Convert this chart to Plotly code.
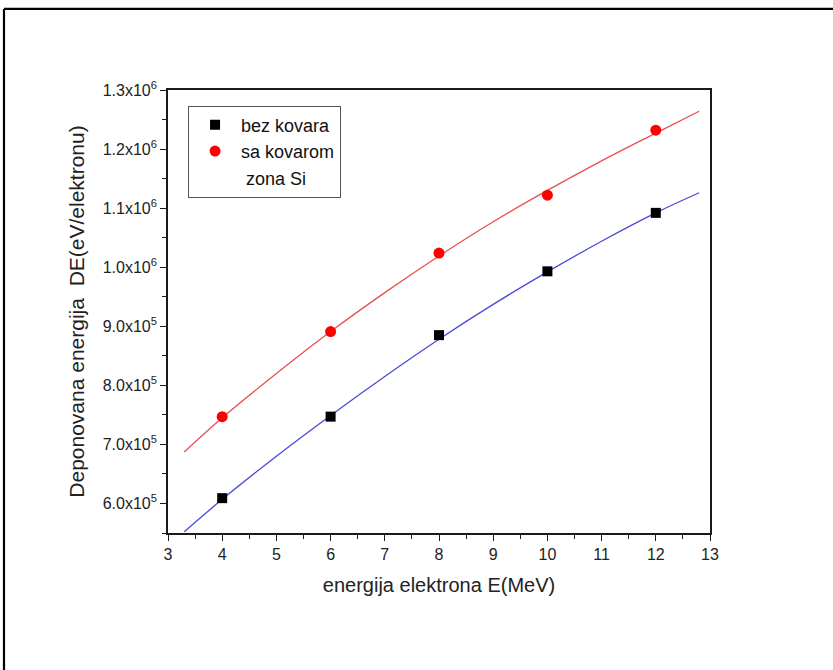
import plotly.graph_objects as go

# Data
energy = [4, 6, 8, 10, 12]
bez_kovara = [6.09e5, 7.47e5, 8.85e5, 9.93e5, 1.092e6]
sa_kovarom = [7.47e5, 8.91e5, 1.024e6, 1.122e6, 1.232e6]

# Fitted curves
fit_x = [3.3, 4, 5, 6, 7, 8, 9, 10, 11, 12, 12.8]
fit_bez = [5.52e5, 6.07e5, 6.80e5, 7.49e5, 8.15e5, 8.78e5, 9.37e5, 9.92e5, 1.044e6, 1.092e6, 1.126e6]
fit_sa = [6.87e5, 7.45e5, 8.20e5, 8.91e5, 9.57e5, 1.019e6, 1.077e6, 1.130e6, 1.180e6, 1.227e6, 1.264e6]

y_ticks = [6.0e5, 7.0e5, 8.0e5, 9.0e5, 1.0e6, 1.1e6, 1.2e6, 1.3e6]
y_tick_text = ["6.0x10<sup>5</sup>", "7.0x10<sup>5</sup>", "8.0x10<sup>5</sup>", "9.0x10<sup>5</sup>",
               "1.0x10<sup>6</sup>", "1.1x10<sup>6</sup>", "1.2x10<sup>6</sup>", "1.3x10<sup>6</sup>"]
x_ticks = [3, 4, 5, 6, 7, 8, 9, 10, 11, 12, 13]

FONT = "Liberation Sans, Arial, sans-serif"

fig = go.Figure()
fig.add_trace(go.Scatter(x=fit_x, y=fit_bez, mode="lines", line=dict(color="#4a4ad8", width=1.3, shape="spline"),
                         showlegend=False, hoverinfo="skip"))
fig.add_trace(go.Scatter(x=fit_x, y=fit_sa, mode="lines", line=dict(color="#e85050", width=1.3, shape="spline"),
                         showlegend=False, hoverinfo="skip"))
fig.add_trace(go.Scatter(x=energy, y=bez_kovara, mode="markers", name="bez kovara",
                         marker=dict(symbol="square", size=10, color="#000000")))
fig.add_trace(go.Scatter(x=energy, y=sa_kovarom, mode="markers", name="sa kovarom",
                         marker=dict(symbol="circle", size=11, color="#ff0000")))
fig.add_trace(go.Scatter(x=[None], y=[None], mode="markers", name=" zona Si",
                         marker=dict(symbol="circle", size=1, color="rgba(0,0,0,0)")))

axis_common = dict(showline=True, linecolor="#1a1a1a", linewidth=1.6, mirror=True, showgrid=False,
                   zeroline=False, ticks="outside", ticklen=6, tickwidth=1.3, tickcolor="#1a1a1a",
                   tickfont=dict(family=FONT, size=16, color="#222"))

fig.update_xaxes(range=[3, 13], tickvals=x_ticks, ticktext=[str(v) for v in x_ticks],
                 minor=dict(ticks="outside", ticklen=4, tickwidth=1.2, tickcolor="#1a1a1a", dtick=0.5, tick0=3),
                 title=dict(text="energija elektrona E(MeV)", font=dict(family=FONT, size=20, color="#222"), standoff=16),
                 **axis_common)
fig.update_yaxes(range=[5.5e5, 1.3e6], tickmode="array", tickvals=y_ticks, ticktext=y_tick_text,
                 minor=dict(ticks="outside", ticklen=4, tickwidth=1.2, tickcolor="#1a1a1a", dtick=5e4, tick0=0),
                 title=dict(text="Deponovana energija  DE(eV/elektronu)", font=dict(family=FONT, size=21, color="#222"), standoff=12),
                 **axis_common)

# Outer figure frame (top and left edges only visible in the reference)
fig.add_shape(type="line", xref="paper", yref="paper", x0=-0.3026, x1=2.0, y0=1.183, y1=1.183,
              line=dict(color="#000000", width=2.2), layer="above")
fig.add_shape(type="line", xref="paper", yref="paper", x0=-0.3026, x1=-0.3026, y0=-2.0, y1=1.183,
              line=dict(color="#000000", width=2.2), layer="above")

fig.update_layout(
    width=833, height=670,
    margin=dict(l=168, r=123, t=90, b=137),
    paper_bgcolor="white", plot_bgcolor="white",
    legend=dict(x=0.037, y=0.965, xanchor="left", yanchor="top", bgcolor="white",
                bordercolor="#555", borderwidth=1, font=dict(family=FONT, size=18, color="#111"),
                tracegroupgap=0, itemwidth=42),
    showlegend=True,
)

fig.write_html("out.html", config={"displayModeBar": False},
               post_script="document.body.style.margin='0';document.body.style.overflow='hidden';")
